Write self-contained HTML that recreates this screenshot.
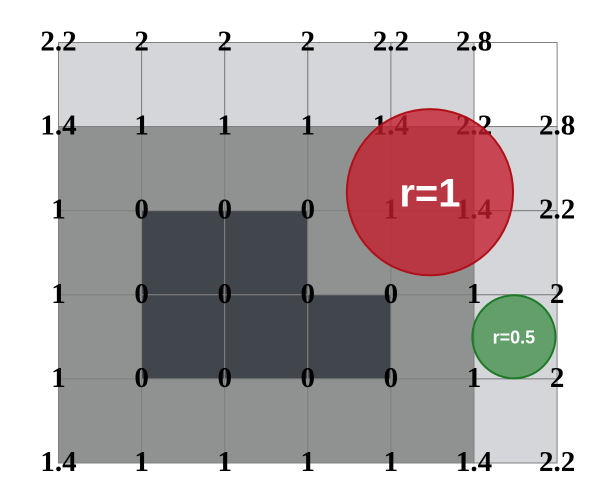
<!DOCTYPE html>
<html><head><meta charset="utf-8"><style>
html,body{margin:0;padding:0;background:#fff;width:601px;height:500px;overflow:hidden}
svg{display:block}
</style></head><body>
<svg id="chart" width="601" height="500" xmlns="http://www.w3.org/2000/svg">
<g id="cells"></g><g id="lines"></g><g id="labels"></g><g id="circles"></g>
</svg>
<script>
// cell shading levels per row (row 0 = top), per column; 0=white,1=light,2=mid,3=dark
const cellRows = [
  [1,1,1,1,1,0],
  [2,2,2,2,2,1],
  [2,3,3,2,2,1],
  [2,3,3,3,2,1],
  [2,2,2,2,2,1]
];
// vertex labels per row (null = none)
const labelRows = [
  ["2.2","2","2","2","2.2","2.8",null],
  ["1.4","1","1","1","1.4","2.2","2.8"],
  ["1","0","0","0","1","1.4","2.2"],
  ["1","0","0","0","0","1","2"],
  ["1","0","0","0","0","1","2"],
  ["1.4","1","1","1","1","1.4","2.2"]
];
const circleCx = [4.47, 5.48];
const circleCy = [1.78, 3.5];
const circleR = [1, 0.5];
const circleText = ["r=1","r=0.5"];

const X0=58.5, Y0=42.5, SX=83.1, SY=84.1;
const xs = c => X0 + c*SX;
const ys = r => Y0 + r*SY;
const NS="http://www.w3.org/2000/svg";
const fills=["#ffffff","#d5d6da","#8f9291","#41454c"];
const gc=document.getElementById('cells'), gt=document.getElementById('labels'), gci=document.getElementById('circles');
cellRows.forEach((row,r)=>row.forEach((v,c)=>{
  const e=document.createElementNS(NS,'rect');
  
  
  e.setAttribute('x',xs(c));e.setAttribute('y',ys(r));
  e.setAttribute('width',SX);e.setAttribute('height',SY);
  e.setAttribute('fill',fills[v]);e.setAttribute('stroke','#7f8080');e.setAttribute('stroke-width','1');
  gc.appendChild(e);
}));
labelRows.forEach((row,r)=>row.forEach((t,c)=>{
  if(t===null)return;
  const e=document.createElementNS(NS,'text');
  
  
  e.setAttribute('x',xs(c));e.setAttribute('y',ys(r)+8);
  e.setAttribute('text-anchor','middle');
  e.setAttribute('font-family','"Liberation Serif", serif');
  e.setAttribute('font-weight','bold');e.setAttribute('font-size','29');
  e.setAttribute('fill','#000');
  e.textContent=t;gt.appendChild(e);
}));
const cFill=["rgba(196,30,45,0.78)","rgba(60,140,70,0.75)"];
const cStroke=["#b01018","#1d7a26"];
const fs=[40,18];
circleR.forEach((rr,i)=>{
  const e=document.createElementNS(NS,'circle');
  
  
  e.setAttribute('cx',xs(circleCx[i]));e.setAttribute('cy',ys(circleCy[i]));
  e.setAttribute('r',rr*SX);
  e.setAttribute('fill',cFill[i]);e.setAttribute('stroke',cStroke[i]);e.setAttribute('stroke-width','2');
  gci.appendChild(e);
  const t=document.createElementNS(NS,'text');
  
  
  t.setAttribute('x',xs(circleCx[i]));t.setAttribute('y',ys(circleCy[i])+fs[i]*0.36);
  t.setAttribute('text-anchor','middle');
  t.setAttribute('font-family','"Liberation Sans", sans-serif');
  t.setAttribute('font-weight','bold');t.setAttribute('font-size',fs[i]);
  t.setAttribute('fill','#fff');
  t.textContent=circleText[i];gci.appendChild(t);
});
</script>
</body></html>
